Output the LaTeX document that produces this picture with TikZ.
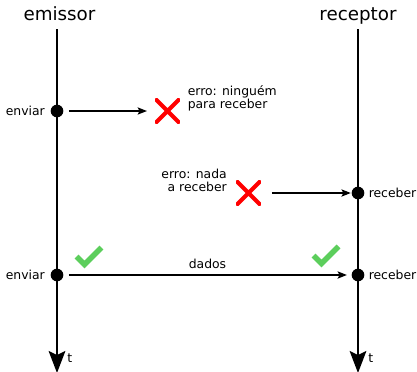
\documentclass[tikz,border=0pt]{standalone}
\usepackage{fontspec}
\setmainfont{DejaVu Sans}
\usetikzlibrary{arrows.meta}
\definecolor{verde}{RGB}{92,206,92}
\tikzset{
	ponto/.style={circle,fill=black,inner sep=0pt,minimum size=9.5pt},
	rotulo/.style={font=\fontsize{9.3}{9.75}\selectfont,inner sep=0pt},
	titulo/.style={font=\fontsize{13.7}{16}\selectfont,inner sep=0pt},
	linhatempo/.style={line width=1.5pt,-{Stealth[length=16.5pt,width=12.5pt,inset=3pt]}},
	seta/.style={line width=0.8pt,-{Stealth[length=7pt,width=5.5pt,inset=1.5pt]}},
	erro/.style={inner sep=0pt,minimum size=18.5pt,path picture={
		\draw[red,line width=3pt] (path picture bounding box.north west)--(path picture bounding box.south east)
			(path picture bounding box.north east)--(path picture bounding box.south west);}},
	certo/.style={inner sep=0pt,minimum size=28pt,path picture={
		\draw[verde,line width=4pt,line join=miter] ([shift={(-12,0)}]path picture bounding box.center)
			--([shift={(-4,8)}]path picture bounding box.center)--([shift={(13,-9)}]path picture bounding box.center);}}
}
\begin{document}
\begin{tikzpicture}[x=0.75pt,y=-0.75pt,line cap=butt]
	\def\xe{57} \def\xr{358} % linhas de tempo
	\useasboundingbox (0,0) rectangle (417,371);
	\node[titulo,anchor=base] (emissor) at (59.5,21) {emissor};
	\node[titulo,anchor=base] (receptor) at (358,21) {receptor};
	\coordinate (e0) at (\xe,29); \coordinate (e1) at (\xe,373);
	\coordinate (r0) at (\xr,29); \coordinate (r1) at (\xr,373);
	\draw[linhatempo] (e0)--(e1);
	\draw[linhatempo] (r0)--(r1);
	\node[rotulo,anchor=west] (te) at (67,358) {t};
	\node[rotulo,anchor=west] (tr) at (368,358) {t};
	% primeiro envio
	\node[ponto] (env1) at (\xe,111) {};
	\node[rotulo,anchor=base east] (lenv1) at (45,115) {enviar};
	\node[erro] (x1) at (167.5,111) {};
	\node[rotulo,anchor=base west,align=left] (m1) at (187.5,108) {erro: ninguém\\para receber};
	\draw[seta,shorten <=4pt,shorten >=6pt] (env1.east)--(x1.west);
	% primeira recepcao
	\node[ponto] (rec1) at (\xr,193) {};
	\node[rotulo,anchor=base west] (lrec1) at (368.5,197) {receber};
	\node[erro] (x2) at (248.5,193) {};
	\node[rotulo,anchor=base east,align=right] (m2) at (227,191) {erro: nada\\a receber};
	\draw[seta,shorten <=8pt,shorten >=0.5pt] (x2.east)--(rec1.west);
	% envio com sucesso
	\node[ponto] (env2) at (\xe,275) {};
	\node[rotulo,anchor=base east] (lenv2) at (45,279) {enviar};
	\node[ponto] (rec2) at (\xr,275) {};
	\node[rotulo,anchor=base west] (lrec2) at (368.5,279) {receber};
	\draw[seta,shorten <=4pt,shorten >=3.4pt] (env2.east)--(rec2.west) node[rotulo,midway,above=4.5pt] (dados) {dados};
	\node[certo] (ok1) at (88.5,256.5) {};
	\node[certo] (ok2) at (325.5,255.5) {};
\end{tikzpicture}
\end{document}
